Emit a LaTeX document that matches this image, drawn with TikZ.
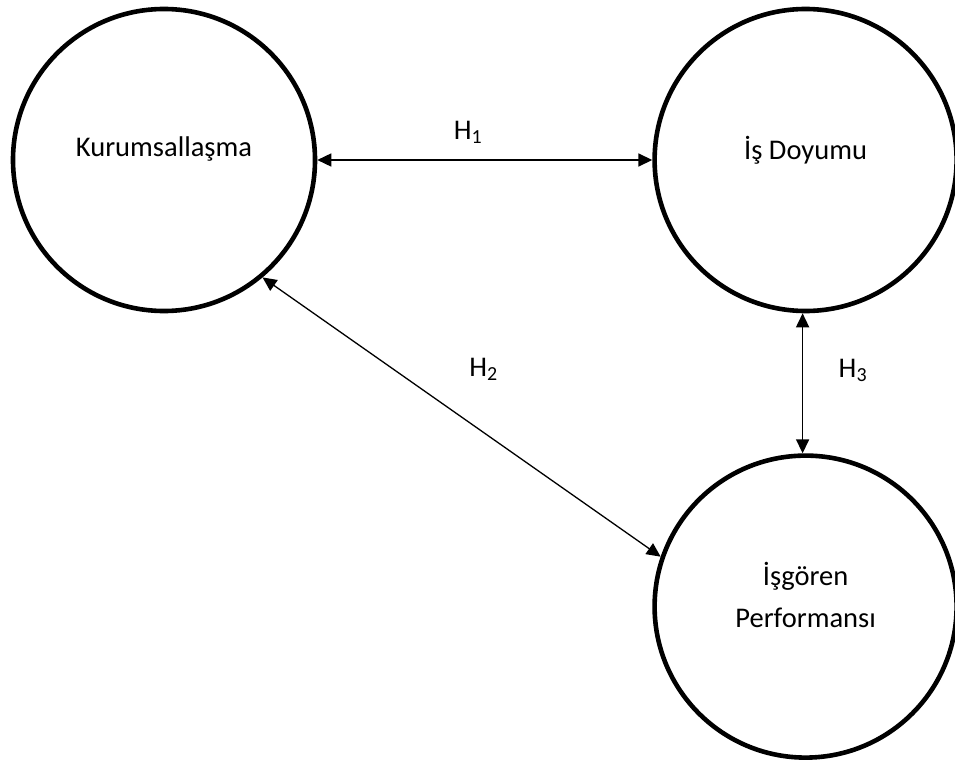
\documentclass[tikz,border=0pt]{standalone}
\usepackage{fontspec}
\setmainfont{Carlito}
\usetikzlibrary{positioning,arrows.meta}

\begin{document}
\begin{tikzpicture}[
    x=1pt, y=1pt,
    node distance = 335pt,
    font={\fontsize{28.5}{42}\selectfont},
    construct/.style={circle,draw=black,line width=4.6pt,minimum size=302pt,inner sep=0pt},
    txt/.style={align=center,text=black},
    relation/.style={arrows={Triangle[length=14pt,width=13pt]-Triangle[length=14pt,width=13pt]},line width=1.6pt},
]
    \useasboundingbox (0,0) rectangle (955,-762);

    % Constructs
    \node[construct] (kurum) at (164,-160) {};
    \node[construct,right=of kurum] (doyum) {};
    \node[construct,below=140pt of doyum] (perf) {};

    % Texts
    \node[txt,yshift=11pt] (kurumtxt) at (kurum.center) {Kurumsallaşma};
    \node[txt,yshift=10pt] (doyumtxt) at (doyum.center) {İş Doyumu};
    \node[txt,yshift=12pt] (perftxt) at (perf.center) {İşgören\\Performansı};

    % Hypotheses
    \draw[relation] (kurum) -- node[txt,above=12pt,pos=0.45] (hone) {H\textsubscript{1}} (doyum);
    \draw[relation,line width=1.3pt] (kurum.-50) -- node[txt,pos=0.5,xshift=22pt,yshift=48pt] (htwo) {H\textsubscript{2}} (perf.161);
    \draw[relation] ([xshift=-3pt]doyum.south) -- node[txt,right=32pt,yshift=13pt] (hthree) {H\textsubscript{3}} ([xshift=-3pt]perf.north);

\end{tikzpicture}
\end{document}
